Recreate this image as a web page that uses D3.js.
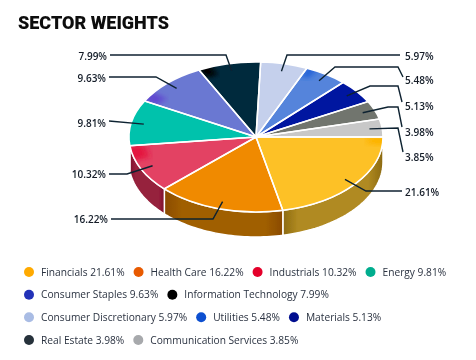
<!DOCTYPE html>
<html>
<head>
<meta charset="utf-8">
<script src="https://cdnjs.cloudflare.com/ajax/libs/d3/7.8.5/d3.min.js"></script>
<style>
  body { margin: 0; background: #fff; }
  text { font-family: "Open Sans", sans-serif; }
</style>
</head>
<body>
<svg id="display"></svg>
<script>
const sectors = ['Financials', 'Health Care', 'Industrials', 'Energy', 'Consumer Staples', 'Information Technology', 'Consumer Discretionary', 'Utilities', 'Materials', 'Real Estate', 'Communication Services']
const weights = [21.61, 16.22, 10.32, 9.81, 9.63, 7.99, 5.97, 5.48, 5.13, 3.98, 3.85]

const topColors = ['#fdc127', '#f08a00', '#e34263', '#00c2ac', '#6b78d2', '#042a3e', '#c5d0ec', '#5484db', '#0013a0', '#71756e', '#c8c8c8']
const wallColors = ['#b08a22', '#a05f00', '#96203c', '#008a78', '#4a55a0', '#021a28', '#9aa5c0', '#3a60a8', '#000c70', '#50534e', '#a0a0a0']
const wallEdgeColors = ['#8c6a10', '#8a4a00', '#7c0f2a', '#006a5c', '#3a4580', '#000', '#8a95b0', '#2a5098', '#000a50', '#40433e', '#909090']
const cornerColors = ['#fdb400', '#f08a00', '#e4173f', '#00c2ac', '#6048d0', '#000000', '#c5d0ec', '#2060d8', '#0013a0', '#71756e', '#c8c8c8']
const legendColors = ['#ffaa00', '#e85a00', '#e4002b', '#00ad8e', '#2430b8', '#000000', '#a9bce4', '#0a4fd0', '#000f8f', '#25303b', '#a7a9ac']
const legendRows = [[0, 1, 2, 3], [4, 5], [6, 7, 8], [9, 10]]

// leader line bends after the anchor on the slice, last point is next to the label
const leaderBends = [
  [[366, 191], [402, 191]],
  [[213, 219], [111, 219]],
  [[127, 174], [109, 174]],
  [[109, 121]],
  [[156, 77], [109, 77]],
  [[226, 55], [110, 55]],
  [[287, 55], [400, 55]],
  [[335, 67], [398, 67], [403, 77]],
  [[370, 86], [398, 86], [402, 102]],
  [[388, 107], [398, 107], [402, 127]],
  [[398, 128], [403, 152]]
]
const labelY = [192, 219, 174, 123, 78, 56, 56, 80, 106, 132, 157]

const width = 476
const height = 360
const cx = 256, cy = 137, rx = 127, ry = 75, depth = 25

let svg = d3.select('#display')
  .attr('width', width)
  .attr('height', height)
  .style('display', 'block')

const defs = svg.append('defs')
defs.append('filter').attr('id', 'soft')
  .append('feGaussianBlur').attr('stdDeviation', 0.35)
defs.append('filter').attr('id', 'cornerBlur')
  .append('feGaussianBlur').attr('stdDeviation', 0.03)

const chart = svg.append('g').attr('filter', 'url(#soft)')

const xScale = d3.scaleLinear().domain([-1, 1]).range([cx - rx, cx + rx])
const yScale = d3.scaleLinear().domain([-1, 1]).range([cy - ry, cy + ry])

const pie = d3.pie().sort(null).startAngle(Math.PI / 2).endAngle(Math.PI * 2.5)
const slices = pie(weights)

// d3 angles start at 12 o'clock
const px = (a, r = 1) => xScale(Math.sin(a) * r)
const py = (a, r = 1) => yScale(-Math.cos(a) * r)

chart.append('text')
  .attr('x', 18)
  .attr('y', 29)
  .style('font-family', 'Roboto')
  .style('font-weight', 900)
  .style('font-size', '18px')
  .attr('fill', '#0a0a0a')
  .text('SECTOR WEIGHTS')

// side wall, only the front half of the disc shows
const wall = chart.append('g')
slices.forEach((d, i) => {
  let a0 = Math.max(d.startAngle, Math.PI / 2)
  let a1 = Math.min(d.endAngle, Math.PI * 1.5)
  if (a1 <= a0) return
  let grad = defs.append('linearGradient').attr('id', 'wall' + i)
  grad.selectAll('stop')
    .data([[0, wallEdgeColors[i]], [0.15, wallColors[i]], [0.85, wallColors[i]], [1, wallEdgeColors[i]]])
    .enter()
    .append('stop')
    .attr('offset', s => s[0])
    .attr('stop-color', s => s[1])
  let angles = d3.range(0, 41).map(k => a0 + (a1 - a0) * k / 40)
  let pts = angles.map(a => [px(a), py(a)])
    .concat(angles.slice().reverse().map(a => [px(a), py(a) + depth]))
  wall.append('path')
    .attr('d', d3.line()(pts) + 'Z')
    .attr('fill', `url(#wall${i})`)
    .attr('stroke', '#fff')
    .attr('stroke-width', 1.5)
})

// top of the disc
const arc = d3.arc().innerRadius(0).outerRadius(1)
const disc = chart.append('g')
  .attr('transform', `translate(${cx},${cy}) scale(${rx},${ry})`)

disc.selectAll('path.slice')
  .data(slices)
  .enter()
  .append('path')
  .attr('class', 'slice')
  .attr('d', arc)
  .attr('fill', (d, i) => topColors[i])

// deeper colour in the outer corner of some slices
slices.forEach((d, i) => {
  if (cornerColors[i] === topColors[i]) return
  let span = d.endAngle - d.startAngle
  // industrials has its corner at the far end of the slice
  let a0 = i === 2 ? d.endAngle - span * 0.3 : d.startAngle
  let a1 = i === 2 ? d.endAngle : d.startAngle + span * (i === 0 ? 0.08 : 0.22)
  defs.append('clipPath').attr('id', 'clip' + i)
    .append('path').attr('d', arc(d))
  disc.append('g')
    .attr('clip-path', `url(#clip${i})`)
    .append('path')
    .attr('d', d3.arc().innerRadius(0.88).outerRadius(1.05).startAngle(a0).endAngle(a1)())
    .attr('fill', cornerColors[i])
    .attr('filter', 'url(#cornerBlur)')
})

disc.selectAll('path.edge')
  .data(slices)
  .enter()
  .append('path')
  .attr('class', 'edge')
  .attr('d', arc)
  .attr('fill', 'none')
  .attr('stroke', '#fff')
  .attr('stroke-width', 1.5)
  .attr('vector-effect', 'non-scaling-stroke')

// leaders and value labels
slices.forEach((d, i) => {
  let mid = (d.startAngle + d.endAngle) / 2
  let pts = [[px(mid, 0.9), py(mid, 0.9)]].concat(leaderBends[i])
  let last = pts[pts.length - 1]
  let onRight = px(mid) > cx
  chart.append('path')
    .attr('d', d3.line()(pts))
    .attr('fill', 'none')
    .attr('stroke', '#0d2230')
    .attr('stroke-width', 1.4)
  chart.append('text')
    .attr('x', onRight ? 405 : last[0] - 3)
    .attr('y', labelY[i])
    .attr('dy', '0.35em')
    .attr('text-anchor', onRight ? 'start' : 'end')
    .style('font-size', '10px')
    .style('font-weight', 600)
    .attr('fill', '#141c28')
    .text(weights[i].toFixed(2) + '%')
})

// legend, laid out row by row from the measured text
const rowY = d3.scalePoint().domain(d3.range(legendRows.length)).range([272, 340])
legendRows.forEach((row, r) => {
  let x = 29
  row.forEach(i => {
    let y = rowY(r)
    chart.append('circle')
      .attr('cx', x)
      .attr('cy', y)
      .attr('r', 5)
      .attr('fill', legendColors[i])
    let label = chart.append('text')
      .attr('x', x + 12)
      .attr('y', y)
      .attr('dy', '0.35em')
      .style('font-size', '10.2px')
      .attr('fill', '#2a3240')
      .text(sectors[i] + ' ' + weights[i].toFixed(2) + '%')
    x += 12 + label.node().getComputedTextLength() + 14
  })
})
</script>
</body>
</html>
